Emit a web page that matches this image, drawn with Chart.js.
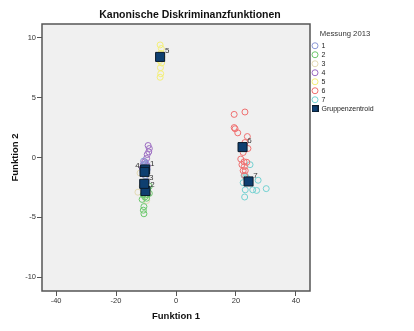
<!DOCTYPE html>
<html>
<head>
<meta charset="utf-8">
<script src="https://cdn.jsdelivr.net/npm/chart.js@4.4.0/dist/chart.umd.min.js"></script>
<style>
    html, body { margin: 0; padding: 0; background: #fff; }
    #wrap { width: 414px; height: 331px; }
</style>
</head>
<body>
<div id="wrap"><canvas id="chart"></canvas></div>
<script>
// Groups (Messung 2013) and their colours
const groupNames = ['1', '2', '3', '4', '5', '6', '7'];
const groupColors = ['#8b98d6', '#6cc86c', '#e4dab4', '#9c6cc2', '#f4ef78', '#ef7070', '#74d2d2'];

// Discriminant scores [Funktion 1, Funktion 2] per group
const group1 = [[-10.8, -0.3], [-10.0, -0.5], [-10.5, -0.8], [-9.6, -1.0], [-11.0, -1.2], [-10.2, -1.5], [-9.8, -2.0], [-10.6, -0.6]];
const group2 = [[-8.9, -2.4], [-9.6, -3.1], [-8.9, -3.0], [-10.9, -3.1], [-9.8, -3.4], [-11.3, -3.5], [-10.4, -3.3], [-10.7, -4.1], [-10.9, -4.4], [-10.7, -4.7], [-10.2, -2.0], [-9.4, -2.6]];
const group3 = [[-12.7, -2.9], [-12.0, -1.3], [-9.8, -3.6], [-11.3, -2.4], [-10.0, -1.8], [-9.4, -3.0]];
const group4 = [[-9.3, 1.0], [-8.9, 0.75], [-9.1, 0.47], [-9.6, 0.25], [-9.8, -0.08], [-10.4, -0.36], [-10.9, -0.6], [-9.6, -0.7], [-10.1, -1.6], [-11.2, -0.9]];
const group5 = [[-5.3, 9.4], [-4.9, 9.1], [-5.0, 8.7], [-5.4, 8.1], [-4.8, 7.9], [-5.2, 7.5], [-5.1, 7.0], [-5.3, 6.7], [-4.7, 8.4]];
const group6 = [[19.4, 3.6], [23.0, 3.8], [19.4, 2.5], [19.7, 2.4], [20.6, 2.06], [23.8, 1.75], [23.0, 1.25], [24.0, 0.75], [22.4, 0.42], [21.6, -0.13], [22.7, -0.36], [23.6, -0.4], [22.0, -0.6], [22.8, -0.75], [22.4, -1.1], [23.1, -1.1], [22.9, -1.5]];
const group7 = [[24.7, -0.6], [22.7, -1.5], [23.6, -1.7], [22.4, -2.1], [27.4, -1.9], [23.1, -2.7], [25.6, -2.7], [26.9, -2.75], [30.1, -2.6], [22.9, -3.3], [24.3, -1.9], [23.3, -1.6]];
const groups = [group1, group2, group3, group4, group5, group6, group7];

// Group centroids
const centroidX = [-10.3, -10.2, -10.6, -10.5, -5.3, 22.2, 24.2];
const centroidY = [-1.0, -2.8, -2.2, -1.2, 8.4, 0.87, -2.0];

// Axis ticks
const xTicks = [-40, -20, 0, 20, 40];
const yTicks = [-10, -5, 0, 5, 10];

Chart.defaults.font.family = '"Liberation Sans", Arial, sans-serif';
Chart.defaults.color = '#333';

// Grey plot area with a dark frame
const plotFrame = {
    id: 'plotFrame',
    beforeDraw(chart) {
        const { ctx, chartArea: a } = chart;
        ctx.save();
        ctx.fillStyle = '#f0f0f0';
        ctx.fillRect(a.left, a.top, a.width, a.height);
        ctx.restore();
    },
    afterDraw(chart) {
        const { ctx, chartArea: a } = chart;
        ctx.save();
        ctx.strokeStyle = '#555';
        ctx.lineWidth = 1.5;
        ctx.strokeRect(a.left, a.top, a.width, a.height);
        ctx.restore();
    }
};

// Group number next to each centroid
const centroidLabels = {
    id: 'centroidLabels',
    afterDatasetsDraw(chart) {
        const meta = chart.getDatasetMeta(chart.data.datasets.length - 1);
        const ctx = chart.ctx;
        ctx.save();
        ctx.font = '8px "Liberation Sans", Arial, sans-serif';
        ctx.fillStyle = '#333';
        ctx.textAlign = 'center';
        ctx.textBaseline = 'middle';
        meta.data.forEach((pt, i) => {
            const dx = groupNames[i] === '4' ? -7 : 7;
            ctx.fillText(groupNames[i], pt.x + dx, pt.y - 6);
        });
        ctx.restore();
    }
};

// Legend marker for the centroid
const centroidIcon = document.createElement('canvas');
centroidIcon.width = 7;
centroidIcon.height = 7;
(() => {
    const c = centroidIcon.getContext('2d');
    c.fillStyle = '#0a1a2a';
    c.fillRect(0, 0, 7, 7);
    c.fillStyle = '#0e3f70';
    c.fillRect(1, 1, 5, 5);
})();

const datasets = groups.map((g, i) => ({
    label: groupNames[i],
    data: g.map(p => ({ x: p[0], y: p[1] })),
    pointStyle: 'circle',
    pointRadius: 3,
    pointBorderWidth: 1,
    pointBorderColor: groupColors[i],
    pointBackgroundColor: 'transparent',
    borderColor: groupColors[i],
    backgroundColor: 'transparent',
    order: 1
}));

datasets.push({
    label: 'Gruppenzentroid',
    data: centroidX.map((x, i) => ({ x: x, y: centroidY[i] })),
    pointStyle: 'rect',
    pointRadius: 6.4,
    pointBorderWidth: 1,
    pointBorderColor: '#0a1a2a',
    pointBackgroundColor: '#0e3f70',
    borderColor: '#0a1a2a',
    backgroundColor: '#0e3f70',
    order: 0
});

const ctx = document.getElementById('chart').getContext('2d');
new Chart(ctx, {
    type: 'scatter',
    data: { datasets: datasets },
    options: {
        responsive: true,
        maintainAspectRatio: false,
        animation: false,
        events: [],
        layout: { padding: { left: 0, right: 34, top: 0, bottom: 0 } },
        plugins: {
            title: {
                display: true,
                text: 'Kanonische Diskriminanzfunktionen',
                color: '#111',
                font: { size: 10.5, weight: 'bold' },
                padding: { top: 9, bottom: 2.4 }
            },
            legend: {
                position: 'right',
                align: 'start',
                maxWidth: 70,
                title: {
                    display: true,
                    text: 'Messung 2013',
                    color: '#333',
                    font: { size: 7.7 },
                    padding: { top: 30, bottom: 1 }
                },
                labels: {
                    usePointStyle: true,
                    pointStyleWidth: 6,
                    boxHeight: 4.24,
                    padding: 2,
                    color: '#222',
                    font: { size: 7 },
                    sort: (a, b) => a.datasetIndex - b.datasetIndex,
                    generateLabels(chart) {
                        const items = Chart.defaults.plugins.legend.labels.generateLabels(chart);
                        items.forEach(item => {
                            item.lineWidth = 1;
                            if (item.text === 'Gruppenzentroid') item.pointStyle = centroidIcon;
                        });
                        return items;
                    }
                }
            },
            tooltip: { enabled: false }
        },
        scales: {
            x: {
                type: 'linear',
                position: 'bottom',
                min: -44.7,
                max: 44.7,
                afterBuildTicks: s => { s.ticks = xTicks.map(v => ({ value: v })); },
                afterFit: s => { s.height = 40; },
                border: { display: false },
                grid: { drawOnChartArea: false, tickLength: 5, color: '#555' },
                ticks: { font: { size: 7.5 }, color: '#333', padding: 0, maxRotation: 0, autoSkip: false },
                title: {
                    display: true,
                    text: 'Funktion 1',
                    color: '#111',
                    font: { size: 9.5, weight: 'bold' },
                    padding: { top: 0, bottom: 9 }
                }
            },
            y: {
                type: 'linear',
                min: -11.15,
                max: 11.15,
                afterBuildTicks: s => { s.ticks = yTicks.map(v => ({ value: v })); },
                afterFit: s => { s.width = 42; },
                border: { display: false },
                grid: { drawOnChartArea: false, tickLength: 5, color: '#555' },
                ticks: { font: { size: 7.5 }, color: '#333', padding: 1, autoSkip: false },
                title: {
                    display: true,
                    text: 'Funktion 2',
                    color: '#111',
                    font: { size: 9.5, weight: 'bold' },
                    padding: { top: 10, bottom: 0 }
                }
            }
        }
    },
    plugins: [plotFrame, centroidLabels]
});
</script>
</body>
</html>
